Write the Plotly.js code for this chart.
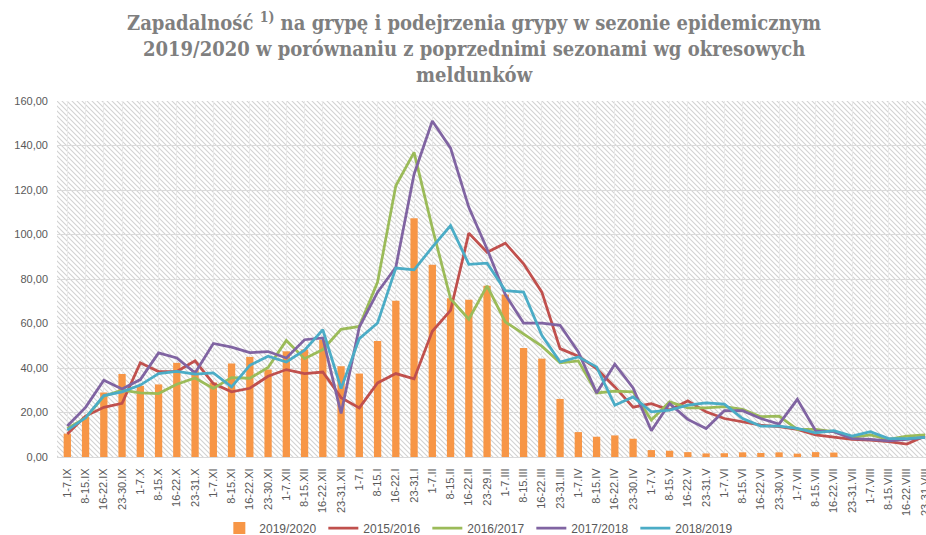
<!DOCTYPE html>
<html>
<head>
<meta charset="utf-8">
<script src="https://cdn.plot.ly/plotly-3.0.1.min.js"></script>
<style>
  html, body { margin: 0; padding: 0; background: #ffffff; }
  #wrap { position: relative; width: 926px; height: 535px; overflow: hidden; }
  #hatch { position: absolute; z-index: 0;
    background-image: url("data:image/svg+xml,%3Csvg xmlns='http://www.w3.org/2000/svg' width='5' height='5'%3E%3Cpath d='M-1,-1 L6,6 M-1,4 L1,6 M4,-1 L6,1' stroke='%23d2d2d2' stroke-width='1.1'/%3E%3C/svg%3E");
    background-repeat: repeat; }
  #chart { position: absolute; left: 0; top: 0; width: 926px; height: 535px; z-index: 1; }
</style>
</head>
<body>
<div id="wrap">
  <div id="hatch"></div>
  <div id="chart"></div>
</div>
<script>
const categories = ["1-7.IX","8-15.IX","16-22.IX","23-30.IX","1-7.X","8-15.X","16-22.X","23-31.X",
  "1-7.XI","8-15.XI","16-22.XI","23-30.XI","1-7.XII","8-15.XII","16-22.XII","23-31.XII",
  "1-7.I","8-15.I","16-22.I","23-31.I","1-7.II","8-15.II","16-22.II","23-29.II",
  "1-7.III","8-15.III","16-22.III","23-31.III","1-7.IV","8-15.IV","16-22.IV","23-30.IV",
  "1-7.V","8-15.V","16-22.V","23-31.V","1-7.VI","8-15.VI","16-22.VI","23-30.VI",
  "1-7.VII","8-15.VII","16-22.VII","23-31.VII","1-7.VIII","8-15.VIII","16-22.VIII","23-31.VIII"];

const season2019_2020 = [10.5, 18, 29, 37.3, 32, 32.6, 42.3, 39, 33.5, 42, 45, 39.3,
  47.5, 48.3, 52.7, 40.8, 37.5, 52.1, 70.2, 107.3, 86.4, 71.3, 70.7, 77,
  73, 49, 44.2, 26.1, 11.2, 9.1, 9.7, 8.2, 3.1, 2.8, 2.2, 1.6,
  1.7, 2.1, 1.8, 2.1, 1.5, 2.2, 2, null, null, null, null, null];

const season2015_2016 = [10.3, 18.4, 22.3, 24.1, 42.3, 38.4, 38.4, 43.2, 33, 29.3, 30.9, 36.3,
  39.3, 37.5, 38.2, 26.7, 22.1, 33.3, 37.5, 35.1, 56.5, 65.9, 100.6, 92,
  96.1, 86.8, 74.1, 48.7, 45.3, 39.7, 31.5, 22.4, 24, 21.1, 25.2, 20.3,
  17.3, 15.8, 14.3, 13.6, 12.4, 9.9, 8.8, 7.9, 7.6, 6.9, 5.8, 9.4];

const season2016_2017 = [12.8, 17.6, 27.3, 30, 28.8, 28.5, 32.7, 35.5, 30.8, 35.7, 35.4, 40.2,
  52.4, 44.2, 48.3, 57.4, 58.7, 78.6, 121.9, 136.9, 103, 71.1, 61.9, 76.9,
  60.7, 55.4, 49.8, 42.3, 43.2, 28.8, 29.6, 29.3, 16.6, 24.8, 22.1, 22.1,
  22.6, 21.4, 18.1, 18.4, 12.4, 12.4, 11.4, 8.8, 9.9, 7.9, 9.4, 9.9];

const season2017_2018 = [13.9, 22.3, 34.5, 30.6, 34.8, 46.8, 44.5, 37.8, 51, 49.4, 46.9, 47.4,
  44.5, 52.7, 53.5, 19.6, 58.4, 74.1, 85.3, 127.1, 151, 138.8, 112.2, 93.5,
  73, 60.2, 60.2, 59.2, 47.2, 28.8, 41.7, 31, 11.8, 24, 16.9, 12.8,
  20.8, 20.8, 17.3, 14.8, 25.9, 11.8, 11.4, 8.3, 7.9, 7.2, 7.9, 8.8];

const season2018_2019 = [12.1, 17.6, 27.6, 29.3, 32.3, 37.5, 38.5, 37.2, 37.8, 31.5, 41.2, 45.3,
  42.7, 48, 57.2, 30.8, 53.2, 60.2, 84.9, 84.1, 94.3, 104, 86.6, 87.1,
  74.8, 74.1, 54.7, 42.7, 45, 40.5, 23.3, 27, 20.3, 21.1, 23.3, 24.3,
  23.8, 17.3, 13.9, 13.9, 12.9, 10.9, 11.8, 9.4, 11.4, 8.3, 8.3, 8.8];

const seriesNames = ["2019/2020", "2015/2016", "2016/2017", "2017/2018", "2018/2019"];
const colors = ["#F79646", "#C0504D", "#9BBB59", "#8064A2", "#4BACC6"];
const titleText = "Zapadalność <sup>1)</sup> na grypę i podejrzenia grypy w sezonie epidemicznym<br>2019/2020 w porównaniu z poprzednimi sezonami wg okresowych<br>meldunków";

const lineSeries = [season2015_2016, season2016_2017, season2017_2018, season2018_2019];

const traces = [{
  type: "bar", x: categories, y: season2019_2020, name: seriesNames[0],
  marker: { color: colors[0] }, hoverinfo: "skip"
}];
lineSeries.forEach((s, k) => {
  traces.push({
    type: "scatter", mode: "lines", x: categories, y: s, name: seriesNames[k + 1],
    line: { color: colors[k + 1], width: 2.75 }
  });
});

const layout = {
  width: 926, height: 535,
  paper_bgcolor: "rgba(0,0,0,0)", plot_bgcolor: "rgba(0,0,0,0)",
  margin: { l: 57, r: 0, t: 100.7, b: 78.3, pad: 0 },
  separators: ", ",
  title: {
    text: titleText, x: 0.512, xanchor: "center", y: 0.943, yanchor: "top",
    font: { family: "DejaVu Serif Condensed, Liberation Serif, serif", size: 20, color: "#7f7f7f", weight: "bold" }
  },
  bargap: 0.6,
  showlegend: true,
  legend: {
    orientation: "h", x: 0.486, xanchor: "center", yref: "container", y: 0.013, yanchor: "middle",
    font: { family: "Liberation Sans, Arial, sans-serif", size: 12, color: "#595959" },
    entrywidth: 59, entrywidthmode: "pixels", traceorder: "normal",
    bgcolor: "rgba(0,0,0,0)"
  },
  xaxis: {
    type: "category", range: [-0.565, 47.05], tickangle: -90,
    showgrid: true, gridcolor: "#e9e9e9", gridwidth: 1,
    showline: true, linecolor: "#d9d9d9", linewidth: 1,
    ticks: "", automargin: false, ticklabelstandoff: 6,
    tickfont: { family: "Liberation Sans, Arial, sans-serif", size: 11, color: "#595959" }
  },
  yaxis: {
    range: [0, 160], dtick: 20, tickformat: ".2f",
    showgrid: true, gridcolor: "#dadada", gridwidth: 1,
    zeroline: false, showline: false, ticks: "", automargin: false, ticklabelstandoff: 8,
    tickfont: { family: "Liberation Sans, Arial, sans-serif", size: 11, color: "#595959" }
  }
};

Plotly.newPlot("chart", traces, layout, { displayModeBar: false, staticPlot: true }).then(gd => {
  const s = gd._fullLayout._size;
  const h = document.getElementById("hatch");
  h.style.left = s.l + "px";
  h.style.top = s.t + "px";
  h.style.width = s.w + "px";
  h.style.height = s.h + "px";
});
</script>
</body>
</html>
